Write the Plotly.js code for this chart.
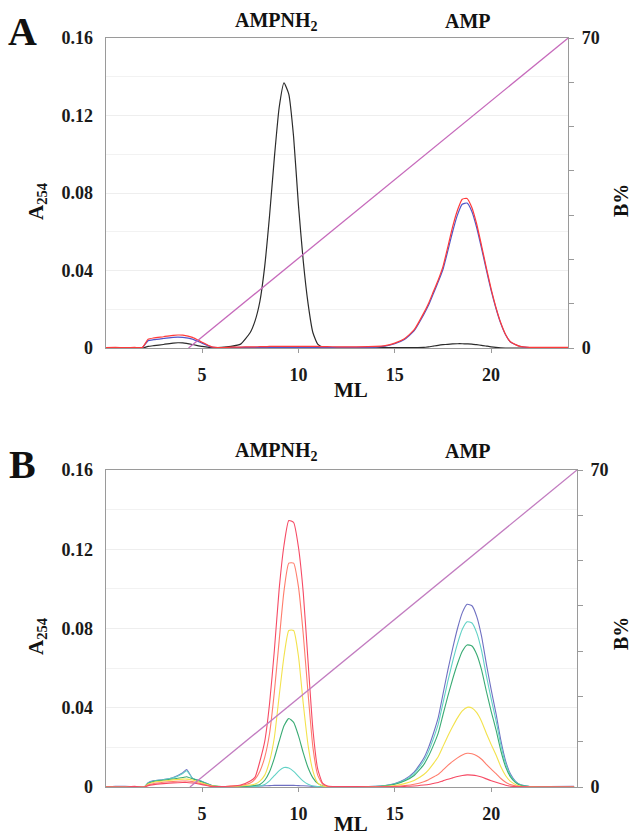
<!DOCTYPE html>
<html>
<head>
<meta charset="utf-8">
<script src="https://cdn.plot.ly/plotly-3.0.1.min.js"></script>
<style>html,body{margin:0;padding:0;background:#fff;}#chart{width:634px;height:837px;}</style>
</head>
<body>
<div id="chart"></div>
<script>
// ---------- Panel A data (ML vs A254) ----------
const xA = [0,0.5,1,1.5,1.9,2.2,2.5,3,3.5,3.75,
  4,4.5,5,5.5,6,6.5,7,7.5,7.75,8,
  8.25,8.5,8.75,9,9.25,9.5,9.75,10,10.25,10.5,
  10.75,11,11.25,11.5,12,13,14,14.5,15,15.5,
  16,16.5,16.75,17,17.25,17.5,17.75,18,18.25,18.5,
  18.75,19,19.25,19.5,19.75,20,20.25,20.5,20.75,21,
  21.5,22,23,24];
const aBlack = [0,0,0,0,0,0.0008,0.0012,0.0018,0.0025,0.0027,
  0.0026,0.0018,0.0008,0.0002,0.0003,0.0008,0.002,0.008,0.014,0.024,
  0.042,0.068,0.098,0.124,0.1368,0.131,0.109,0.074,0.045,0.023,
  0.008,0.002,0.0005,0.0002,0.0001,0.0001,0.0001,0.0002,0.0002,0.0002,
  0.0002,0.0003,0.0006,0.001,0.0014,0.0017,0.0019,0.0021,0.0022,0.0022,
  0.0021,0.002,0.0017,0.0014,0.001,0.0006,0.0003,0.0001,0,0,
  0,0,0,0];
const aRed = [0.0002,0.0003,0.0002,0.0003,0.0003,0.0045,0.0052,0.0058,0.0065,0.0067,
  0.0066,0.0055,0.003,0.0006,0.0002,0.0004,0.0005,0.0006,0.0006,0.0007,
  0.0007,0.0008,0.0008,0.0008,0.0008,0.0008,0.0008,0.0008,0.0008,0.0008,
  0.0008,0.0008,0.0007,0.0007,0.0006,0.0006,0.0008,0.0012,0.0025,0.0048,
  0.0093,0.018,0.023,0.029,0.035,0.042,0.052,0.0625,0.071,0.0768,
  0.0772,0.0725,0.064,0.053,0.0415,0.0305,0.021,0.013,0.007,0.0032,
  0.0008,0.0003,0.0003,0.0003];
const aBlue = [0.0001,0.0002,0.0001,0.0002,0.0002,0.0038,0.0043,0.0049,0.0055,0.0056,
  0.0055,0.0046,0.0025,0.0005,0.0002,0.0002,0.0003,0.0003,0.0003,0.0003,
  0.0003,0.0003,0.0003,0.0003,0.0003,0.0003,0.0003,0.0003,0.0003,0.0003,
  0.0003,0.0003,0.0003,0.0003,0.0003,0.0003,0.0005,0.001,0.0022,0.0044,
  0.0088,0.0172,0.022,0.028,0.034,0.0405,0.05,0.06,0.0686,0.0742,
  0.0748,0.0705,0.0622,0.0516,0.0404,0.0297,0.0205,0.0127,0.0068,0.0031,
  0.0008,0.0002,0.0002,0.0002];
const gradAx = [4.3, 24];
const gradAy = [0, 70];

// ---------- Panel B data ----------
const xB = [0,0.5,1,1.5,2,2.2,2.5,3,3.5,4,
  4.2,4.5,5,5.5,6,6.5,7,7.5,7.75,8,
  8.25,8.5,8.75,9,9.25,9.5,9.75,10,10.25,10.5,
  10.75,11,11.25,11.5,12,13,14,14.5,15,15.5,
  16,16.5,16.75,17,17.25,17.5,17.75,18,18.25,18.5,
  18.75,19,19.25,19.5,19.75,20,20.25,20.5,20.75,21,
  21.25,21.5,22,23,24.3];
const bRed = [0,0,0,0.0003,0,0.0007,0.0012,0.0017,0.0021,0.0023,
  0.0023,0.002,0.0012,0.0003,0.0002,0.0005,0.001,0.003,0.005,0.013,
  0.023,0.042,0.069,0.1,0.122,0.1345,0.1335,0.121,0.098,0.063,
  0.029,0.009,0.002,0.0005,0.0002,0.0002,0,0.0001,0.0001,0.0003,
  0.0005,0.001,0.0013,0.0018,0.0023,0.0031,0.0039,0.0046,0.0053,0.0058,
  0.0061,0.006,0.0057,0.005,0.0041,0.0032,0.0024,0.0016,0.0009,0.0004,
  0.0002,0.0001,0,0,0];
const bSalmon = [0,0,0,0,0,0.001,0.0018,0.0024,0.0028,0.003,
  0.003,0.0027,0.0015,0.0004,0.0002,0.0004,0.0008,0.002,0.004,0.008,
  0.015,0.027,0.048,0.074,0.099,0.113,0.113,0.101,0.077,0.047,
  0.02,0.006,0.0015,0.0004,0.0002,0.0002,0.0001,0.0001,0.0003,0.0007,
  0.0014,0.0027,0.0037,0.005,0.0064,0.0086,0.0109,0.0129,0.0147,0.0162,
  0.017,0.0168,0.0158,0.014,0.0114,0.009,0.0068,0.0043,0.0024,0.0012,
  0.0006,0.0002,0,0,0];
const bYellow = [0,0,0,0,0,0.0015,0.0024,0.003,0.0036,0.004,
  0.004,0.0035,0.002,0.0006,0.0002,0.0003,0.0005,0.001,0.0015,0.003,
  0.006,0.013,0.025,0.046,0.066,0.079,0.079,0.066,0.042,0.021,
  0.008,0.002,0.0005,0.0002,0.0001,0.0001,0.0001,0.0003,0.0008,0.0017,
  0.0033,0.0063,0.0087,0.0118,0.0153,0.0205,0.0257,0.0305,0.0349,0.0384,
  0.0402,0.0399,0.0375,0.0331,0.027,0.0214,0.0161,0.0102,0.0057,0.0028,
  0.0013,0.0005,0.0001,0,0];
const bGreen = [0,0,0,0,0,0.0018,0.0028,0.0034,0.004,0.0048,
  0.0052,0.0042,0.0025,0.0007,0.0002,0.0002,0.0003,0.0005,0.0008,0.0013,
  0.0034,0.0077,0.0146,0.0231,0.0309,0.0346,0.0326,0.0259,0.0172,0.0097,
  0.0046,0.0018,0.0006,0.0002,0.0001,0.0001,0.0002,0.0006,0.0014,0.003,
  0.0058,0.0113,0.0156,0.021,0.0272,0.0366,0.0459,0.0545,0.0622,0.0685,
  0.0717,0.0712,0.0669,0.0591,0.0482,0.0381,0.0288,0.0183,0.0101,0.0051,
  0.0023,0.0009,0.0002,0,0];
const bCyan = [0,0,0,0,0,0.002,0.003,0.0037,0.0046,0.0068,
  0.0082,0.0045,0.0027,0.0008,0.0002,0.0001,0.0001,0.0002,0.0003,0.0005,
  0.0013,0.0031,0.0057,0.0083,0.0098,0.0096,0.0079,0.0054,0.003,0.0014,
  0.0005,0.0002,0.0001,0.0001,0.0001,0.0001,0.0003,0.0007,0.0016,0.0034,
  0.0068,0.0131,0.018,0.0244,0.0317,0.0425,0.0534,0.0634,0.0724,0.0796,
  0.0834,0.0828,0.0778,0.0688,0.0561,0.0443,0.0335,0.0213,0.0118,0.0059,
  0.0027,0.0011,0.0002,0,0];
const bBlue = [0,0.0003,0.0004,0.0002,0,0.0022,0.0032,0.0038,0.0048,0.0072,
  0.0088,0.0045,0.0028,0.0008,0.0002,0.0002,0.0002,0.0003,0.0004,0.0005,
  0.0006,0.0007,0.0008,0.0008,0.0008,0.0008,0.0008,0.0007,0.0006,0.0005,
  0.0003,0.0002,0.0001,0.0001,0.0001,0.0001,0.0003,0.0008,0.0018,0.0038,
  0.0075,0.0145,0.02,0.027,0.035,0.047,0.059,0.07,0.08,0.088,
  0.0922,0.0915,0.086,0.076,0.062,0.049,0.037,0.0235,0.013,0.0065,
  0.003,0.0012,0.0002,0.0002,0.0004];
const gradBx = [4.37, 24.45];
const gradBy = [0, 70];

const yTicks = [0, 0.04, 0.08, 0.12, 0.16];
const yTickText = ['0', '0.04', '0.08', '0.12', '0.16'];
const xTicks = [5, 10, 15, 20];
const xTickText = ['5', '10', '15', '20'];
const bTicks = [0, 70];
const bTickText = ['0', '70'];

// ---------- styling ----------
const SERIF = 'Liberation Serif, Times New Roman, serif';
const tickFont = {family: SERIF, size: 18, color: '#1a1a1a'};
const AXC = '#9a9a9a';
const bold = a => a.map(s => '<b>' + s + '</b>');

function line(x, y, color, xa, ya, w) {
  return {x: x, y: y, type: 'scatter', mode: 'lines', xaxis: xa, yaxis: ya,
    line: {color: color, width: w || 1.2, shape: 'spline', smoothing: 0.5},
    hoverinfo: 'skip', showlegend: false};
}

const data = [
  line(xA, aBlack, '#2b2b2b', 'x', 'y'),
  line(xA, aBlue, '#5056c8', 'x', 'y'),
  line(xA, aRed, '#ff3a3a', 'x', 'y'),
  {x: gradAx, y: gradAy, type: 'scatter', mode: 'lines', xaxis: 'x', yaxis: 'y2',
   line: {color: '#c66abb', width: 1.3}, hoverinfo: 'skip', showlegend: false},
  line(xB, bBlue, '#6f70c2', 'x2', 'y3', 1.1),
  line(xB, bCyan, '#62d2c6', 'x2', 'y3', 1.1),
  line(xB, bGreen, '#3aab74', 'x2', 'y3', 1.1),
  line(xB, bYellow, '#f3e24c', 'x2', 'y3', 1.1),
  line(xB, bSalmon, '#ff7d6c', 'x2', 'y3', 1.1),
  line(xB, bRed, '#f64a64', 'x2', 'y3', 1.1),
  {x: gradBx, y: gradBy, type: 'scatter', mode: 'lines', xaxis: 'x2', yaxis: 'y4',
   line: {color: '#c27cc0', width: 1.3}, hoverinfo: 'skip', showlegend: false}
];

const W = 634, H = 837;
const px = v => v / W, py = v => 1 - v / H;

function xAxis(range, dom, anchor) {
  return {domain: dom, range: range, anchor: anchor, tickvals: xTicks,
    ticktext: bold(xTickText),
    ticks: 'outside', ticklen: 4, tickcolor: AXC, tickfont: tickFont,
    ticklabelstandoff: 6, showline: true, linecolor: AXC, linewidth: 1,
    mirror: true, showgrid: false, zeroline: false, fixedrange: true};
}
function yAxis(dom, anchor) {
  return {domain: dom, range: [0, 0.16], anchor: anchor, tickvals: yTicks,
    ticktext: bold(yTickText), ticks: '', tickfont: tickFont, ticklabelstandoff: 8,
    showline: true, linecolor: AXC, linewidth: 1, showgrid: true,
    gridcolor: '#eeeeee', gridwidth: 1, zeroline: false,
    minor: {dtick: 0.02, tick0: 0, showgrid: true, gridcolor: '#f2f2f2', ticks: ''},
    fixedrange: true};
}
function y2Axis(over, anchor) {
  return {overlaying: over, side: 'right', anchor: anchor, range: [0, 70],
    tickvals: bTicks, ticktext: bold(bTickText), ticks: 'outside', ticklen: 5, tickcolor: AXC,
    tickfont: tickFont, ticklabelstandoff: 4, showline: true, linecolor: AXC,
    linewidth: 1, showgrid: false, zeroline: false,
    minor: {dtick: 10, tick0: 0, ticks: 'outside', ticklen: 5, tickcolor: AXC, showgrid: false},
    fixedrange: true};
}

const ann = (x, y, text, size, extra) => Object.assign({
  xref: 'paper', yref: 'paper', x: px(x), y: py(y), text: '<b>' + text + '</b>', showarrow: false,
  xanchor: 'center', yanchor: 'middle',
  font: {family: SERIF, size: size, color: '#111'}}, extra || {});

const layout = {
  width: W, height: H, margin: {l: 0, r: 0, t: 0, b: 0},
  paper_bgcolor: '#fff', plot_bgcolor: '#fff', showlegend: false,
  xaxis: xAxis([0, 24], [px(105.7), px(568.2)], 'y'),
  yaxis: yAxis([py(348), py(38)], 'x'),
  yaxis2: y2Axis('y', 'x'),
  xaxis2: xAxis([0, 24.45], [px(105.7), px(577)], 'y3'),
  yaxis3: yAxis([py(787), py(470)], 'x2'),
  yaxis4: y2Axis('y3', 'x2'),
  annotations: [
    ann(22, 32, 'A', 40),
    ann(22, 464, 'B', 40),
    ann(276, 22, 'AMPNH<sub>2</sub>', 20),
    ann(468, 21, 'AMP', 20),
    ann(276, 451, 'AMPNH<sub>2</sub>', 20),
    ann(468, 451, 'AMP', 20),
    ann(351, 390, 'ML', 21),
    ann(351, 824, 'ML', 21),
    ann(37, 201, 'A<sub>254</sub>', 21, {textangle: -90}),
    ann(37, 636, 'A<sub>254</sub>', 21, {textangle: -90}),
    ann(621, 201, 'B%', 20, {textangle: -90}),
    ann(621, 634, 'B%', 20, {textangle: -90})
  ]
};

Plotly.newPlot('chart', data, layout, {staticPlot: true, displayModeBar: false});
</script>
</body>
</html>
